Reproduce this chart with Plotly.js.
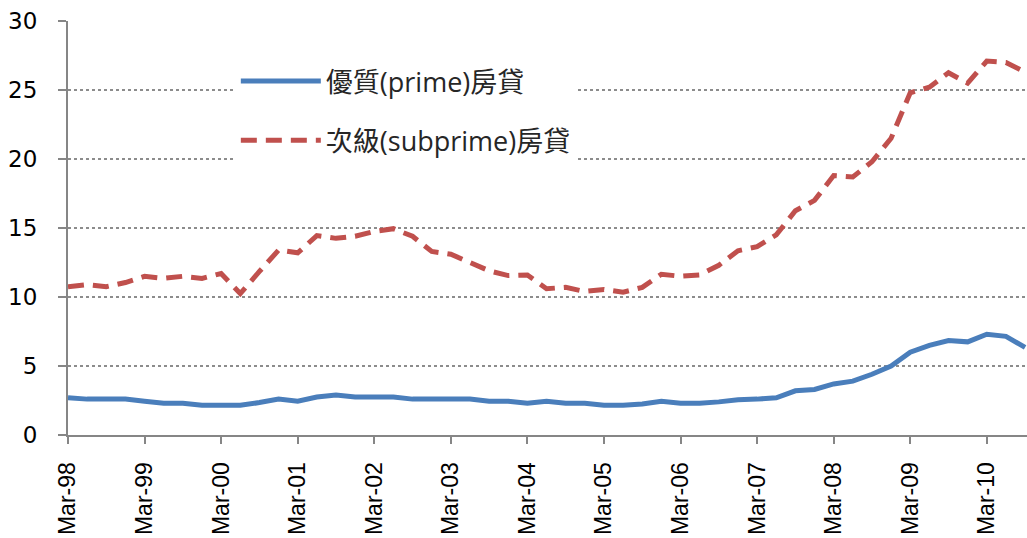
<!DOCTYPE html>
<html>
<head>
<meta charset="utf-8">
<script src="https://cdn.plot.ly/plotly-3.0.1.min.js"></script>
<style>
html,body{margin:0;padding:0;background:#fff;}
#chart{width:1027px;height:538px;}
</style>
</head>
<body>
<div id="chart"></div>
<script>
var quarters = [
  "Mar-98","Jun-98","Sep-98","Dec-98",
  "Mar-99","Jun-99","Sep-99","Dec-99",
  "Mar-00","Jun-00","Sep-00","Dec-00",
  "Mar-01","Jun-01","Sep-01","Dec-01",
  "Mar-02","Jun-02","Sep-02","Dec-02",
  "Mar-03","Jun-03","Sep-03","Dec-03",
  "Mar-04","Jun-04","Sep-04","Dec-04",
  "Mar-05","Jun-05","Sep-05","Dec-05",
  "Mar-06","Jun-06","Sep-06","Dec-06",
  "Mar-07","Jun-07","Sep-07","Dec-07",
  "Mar-08","Jun-08","Sep-08","Dec-08",
  "Mar-09","Jun-09","Sep-09","Dec-09",
  "Mar-10","Jun-10","Sep-10"
];

var tickLabels = ["Mar-98","Mar-99","Mar-00","Mar-01","Mar-02","Mar-03","Mar-04",
                  "Mar-05","Mar-06","Mar-07","Mar-08","Mar-09","Mar-10"];

var primeName = "優質(prime)房貸";
var subprimeName = "次級(subprime)房貸";

var prime = [
  2.7, 2.6, 2.6, 2.6,
  2.45, 2.3, 2.3, 2.15,
  2.15, 2.15, 2.35, 2.6,
  2.45, 2.75, 2.9, 2.75,
  2.75, 2.75, 2.6, 2.6,
  2.6, 2.6, 2.45, 2.45,
  2.3, 2.45, 2.3, 2.3,
  2.15, 2.15, 2.25, 2.45,
  2.3, 2.3, 2.4, 2.55,
  2.6, 2.7, 3.2, 3.3,
  3.7, 3.9, 4.4, 5.0,
  6.0, 6.5, 6.85, 6.75,
  7.3, 7.15, 6.35
];

var subprime = [
  10.75, 10.9, 10.75, 11.05,
  11.5, 11.35, 11.5, 11.35,
  11.7, 10.25, 11.85, 13.4,
  13.2, 14.45, 14.25, 14.4,
  14.75, 14.95, 14.4, 13.3,
  13.1, 12.45, 11.9, 11.55,
  11.6, 10.6, 10.7, 10.4,
  10.55, 10.35, 10.7, 11.65,
  11.5, 11.6, 12.3, 13.35,
  13.65, 14.5, 16.25, 17.0,
  18.8, 18.7, 19.8, 21.5,
  24.8, 25.2, 26.25, 25.5,
  27.1, 27.0, 26.3
];

var traces = [
  {
    x: quarters, y: prime, type: "scatter", mode: "lines",
    name: primeName, legendgroup: "a",
    line: {color: "#4a7ebb", width: 5}
  },
  {
    x: quarters, y: subprime, type: "scatter", mode: "lines",
    name: subprimeName, legendgroup: "b",
    line: {color: "#c0504d", width: 5, dash: "16px,9px"}
  }
];

var layout = {
  width: 1027, height: 538,
  margin: {l: 68, r: 0, t: 21, b: 103, pad: 0},
  paper_bgcolor: "#ffffff",
  plot_bgcolor: "#ffffff",
  showlegend: true,
  legend: {
    x: 0.175, y: 0.913, xanchor: "left", yanchor: "top",
    bgcolor: "#ffffff",
    borderwidth: 0,
    itemwidth: 80,
    tracegroupgap: 21,
    traceorder: "grouped",
    font: {family: "Open Sans, Noto Sans CJK TC, sans-serif", size: 27, color: "#262626"}
  },
  xaxis: {
    type: "category",
    range: [0, 50.1],
    tickmode: "array",
    tickvals: tickLabels,
    ticktext: tickLabels,
    tickangle: -90,
    ticks: "outside", ticklen: 7, tickwidth: 2, tickcolor: "#868686",
    ticklabelstandoff: 9,
    showline: true, linecolor: "#868686", linewidth: 2,
    showgrid: false, zeroline: false,
    tickfont: {family: "Liberation Sans, Arial, sans-serif", size: 23, color: "#000000"},
    fixedrange: true
  },
  yaxis: {
    range: [0, 30],
    tickvals: [0, 5, 10, 15, 20, 25, 30],
    ticks: "outside", ticklen: 8, tickwidth: 2, tickcolor: "#868686",
    ticklabelstandoff: 16,
    showline: true, linecolor: "#868686", linewidth: 2,
    showgrid: true, gridcolor: "#8c8c8c", gridwidth: 1.5, griddash: "dot",
    zeroline: false,
    tickfont: {family: "DejaVu Sans, sans-serif", size: 23, color: "#000000"},
    fixedrange: true
  }
};

Plotly.newPlot("chart", traces, layout, {staticPlot: true, displayModeBar: false});
</script>
</body>
</html>
